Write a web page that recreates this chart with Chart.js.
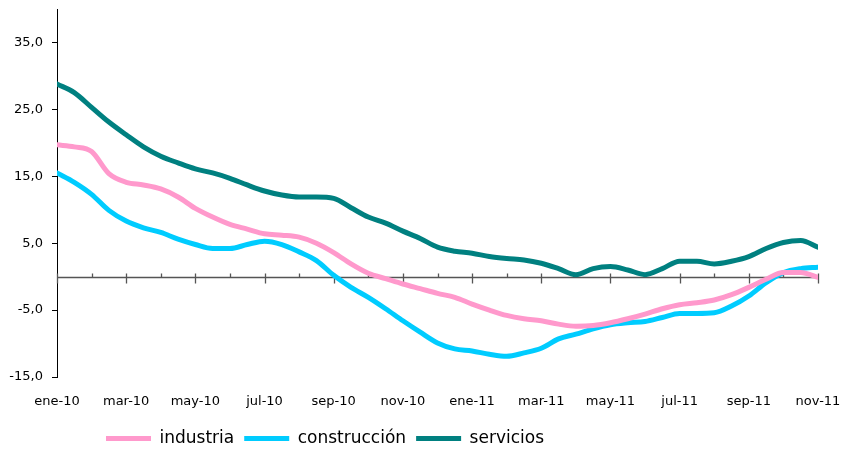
<!DOCTYPE html>
<html>
<head>
<meta charset="utf-8">
<script src="https://cdn.jsdelivr.net/npm/chart.js@4"></script>
<style>
  body { margin: 0; background: #fff; }
  #wrap { width: 843px; height: 450px; }
</style>
</head>
<body>
<div id="wrap"><canvas id="chart" width="843" height="450"></canvas></div>
<script>
// month tick labels (one per month, labelled every second month)
const months = ['ene-10','feb-10','mar-10','abr-10','may-10','jun-10','jul-10','ago-10','sep-10','oct-10','nov-10','dic-10',
                'ene-11','feb-11','mar-11','abr-11','may-11','jun-11','jul-11','ago-11','sep-11','oct-11','nov-11'];
const yTicks = [-15, -5, 5, 15, 25, 35];

// values read every half month, ene-10 .. nov-11
const industria = [19.7, 19.4, 18.7, 15.4, 14.1, 13.7, 13.1, 11.9, 10.2, 8.9, 7.8, 7.1, 6.4, 6.2, 5.9, 5.0, 3.6, 1.9, 0.5,
  -0.3, -1.1, -1.8, -2.5, -3.1, -4.1, -5.0, -5.8, -6.3, -6.6, -7.1, -7.4, -7.3, -6.9, -6.3, -5.6, -4.8, -4.2, -3.9, -3.5,
  -2.7, -1.6, -0.4, 0.6, 0.6, -0.1];
const construccion = [15.5, 14.1, 12.3, 9.9, 8.3, 7.3, 6.6, 5.6, 4.8, 4.2, 4.2, 4.8, 5.3, 4.8, 3.7, 2.4, 0.2, -1.6, -3.1,
  -4.8, -6.6, -8.3, -9.9, -10.8, -11.1, -11.6, -11.9, -11.4, -10.7, -9.3, -8.6, -7.8, -7.2, -6.9, -6.7, -6.1, -5.5, -5.5,
  -5.4, -4.4, -2.9, -0.9, 0.6, 1.2, 1.4];
const servicios = [28.8, 27.5, 25.3, 23.1, 21.2, 19.4, 18.0, 17.0, 16.1, 15.5, 14.7, 13.7, 12.8, 12.2, 11.9, 11.9, 11.7,
  10.3, 8.9, 8.0, 6.8, 5.7, 4.4, 3.8, 3.5, 3.0, 2.7, 2.5, 2.0, 1.2, 0.3, 1.2, 1.5, 1.0, 0.3, 1.2, 2.3, 2.3, 1.9, 2.3, 3.0,
  4.2, 5.1, 5.4, 4.4];

const toPoints = arr => arr.map((v, i) => ({ x: i / 2, y: v }));

const font = 'DejaVu Sans';

// zero line with month tick marks
const zeroAxis = {
  id: 'zeroAxis',
  beforeDatasetsDraw(chart) {
    const { ctx, chartArea, scales: { x, y } } = chart;
    const y0 = Math.round(y.getPixelForValue(0)) + 0.5;
    ctx.save();
    ctx.strokeStyle = '#555';
    ctx.lineWidth = 1.3;
    ctx.beginPath();
    ctx.moveTo(chartArea.left, y0);
    ctx.lineTo(chartArea.right, y0);
    for (let m = 0; m < months.length; m++) {
      const px = Math.round(x.getPixelForValue(m)) + 0.5;
      ctx.moveTo(px, y0 - 4);
      ctx.lineTo(px, m % 2 === 0 ? y0 + 6 : y0);
    }
    ctx.stroke();
    ctx.restore();
  },
  afterLayout(chart) {
    const lg = chart.legend;
    const w = lg.right - lg.left;
    lg.left = 96;
    lg.right = 96 + w;
    lg.top += 7;
    lg.bottom += 7;
  }
};

const mk = (label, data, color) => ({
  label: label,
  data: toPoints(data),
  borderColor: color,
  backgroundColor: color,
  borderWidth: 5,
  borderCapStyle: 'round',
  pointRadius: 0,
  pointStyle: 'line',
  tension: 0.4,
  cubicInterpolationMode: 'monotone',
  fill: false
});

new Chart(document.getElementById('chart').getContext('2d'), {
  type: 'line',
  data: {
    datasets: [
      mk('industria', industria, '#FF99CC'),
      mk('construcción', construccion, '#00CCFF'),
      mk('servicios', servicios, '#008080')
    ]
  },
  options: {
    responsive: false,
    animation: false,
    layout: { padding: { left: 0, right: 25, top: 9, bottom: 0 } },
    plugins: {
      tooltip: { enabled: false },
      legend: {
        position: 'bottom',
        align: 'start',
        labels: {
          usePointStyle: true,
          pointStyleWidth: 45,
          boxHeight: 17,
          padding: 10,
          color: '#000',
          font: { family: font, size: 17 }
        }
      }
    },
    scales: {
      x: {
        type: 'linear',
        min: 0,
        max: 22,
        grid: { display: false },
        border: { display: false },
        ticks: {
          stepSize: 1,
          autoSkip: false,
          maxRotation: 0,
          padding: 9,
          color: '#000',
          font: { family: font, size: 13 },
          callback: v => (v % 2 === 0 ? months[v] : '')
        },
        afterFit(scale) {
          scale.height = 36;
          scale.paddingLeft = 0;
          scale.paddingRight = 0;
        }
      },
      y: {
        min: -15,
        max: 40,
        afterBuildTicks(scale) { scale.ticks = yTicks.map(v => ({ value: v })); },
        grid: { drawOnChartArea: false, drawTicks: true, tickLength: 5, color: '#000' },
        border: { color: '#000', width: 1 },
        ticks: {
          padding: 9,
          color: '#000',
          font: { family: font, size: 13 },
          callback: v => v.toFixed(1).replace('.', ',')
        },
        afterFit(scale) {
          scale.width = 57;
          scale.paddingTop = 0;
          scale.paddingBottom = 0;
        }
      }
    }
  },
  plugins: [zeroAxis]
});
</script>
</body>
</html>
